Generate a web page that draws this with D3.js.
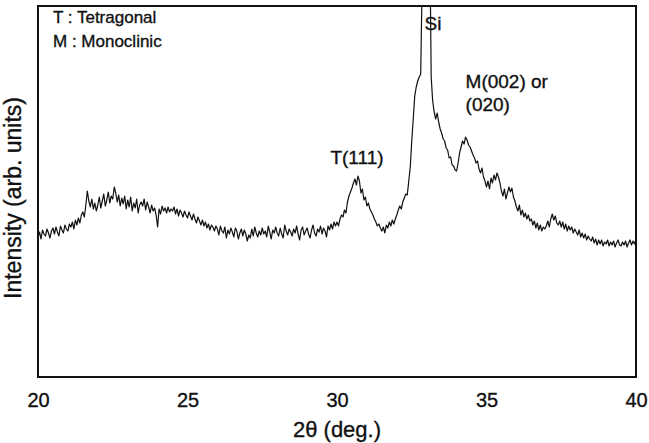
<!DOCTYPE html>
<html>
<head>
<meta charset="utf-8">
<script src="https://cdn.jsdelivr.net/npm/d3@7"></script>
<style>
  body { margin: 0; background: #fff; }
  svg { display: block; }
  text { font-family: "Liberation Sans", Arial, sans-serif; fill: #111; stroke: #111; stroke-width: 0.35px; }
</style>
</head>
<body>
<svg width="649" height="443"></svg>
<script>
// XRD scan, 2theta from 20 to 40 deg, step 0.05 deg
const scanStart = 20;
const scanStep = 0.05;

// intensity (arb. units)
const intensity = [
  140,145,138,147,143,141,148,144,139,146,
  149,143,150,145,141,151,147,144,152,148,
  146,153,150,155,148,157,152,159,154,162,
  165,160,172,186,176,170,178,168,174,166,
  172,180,169,176,183,171,177,185,174,181,
  178,190,184,175,182,171,179,173,181,168,
  177,170,180,166,174,169,178,164,172,175,
  171,178,167,175,170,164,172,166,169,162,
  150,168,163,171,166,169,164,170,165,168,
  166,170,163,168,161,167,164,160,166,162,
  159,165,161,157,163,158,154,160,156,152,
  157,151,155,149,153,147,152,150,146,151,
  148,142,151,146,144,150,139,147,143,149,
  145,140,149,146,138,144,148,141,147,143,
  136,142,139,148,141,150,144,140,146,142,
  149,143,146,140,151,145,138,147,144,150,
  144,141,149,143,139,152,146,142,148,145,
  141,148,144,151,143,137,147,150,142,146,
  149,143,139,147,152,144,141,148,145,151,
  143,149,146,140,151,147,153,148,155,151,
  155,151,158,162,160,167,164,175,181,185,
  189,194,198,192,201,196,184,188,177,180,
  171,174,168,165,162,158,155,151,153,149,
  146,150,144,152,149,155,151,157,153,158,
  162,167,171,168,175,179,183,182,196,210,
  236,258,281,290,296,300,303,400,480,510,
  540,520,450,300,276,265,258,264,255,248,
  244,238,236,229,227,219,220,212,211,207,
  206,214,224,230,236,233,240,237,232,230,
  226,222,219,214,216,208,204,209,200,196,
  190,196,188,199,194,202,197,204,200,194,
  186,181,188,178,184,190,185,189,180,176,
  170,166,172,162,167,160,164,158,162,156,
  158,152,156,149,154,147,152,146,150,148,
  151,156,150,158,163,157,161,154,152,156,
  150,155,148,153,146,151,147,150,144,148,
  145,142,147,140,144,139,143,137,141,138,
  136,140,134,138,132,137,133,137,131,135,
  133,137,131,135,132,136,130,134,137,132,
  131,135,132,136,130,134,137,132,136,133,
  138
];

const xTicks = [20, 25, 30, 35, 40];

// peak labels: text, 2theta of label start, intensity at text baseline
const peakLabels = ["Si", "T(111)", "M(002) or", "(020)"];
const peakLabelX = [32.93, 29.78, 34.3, 34.3];
const peakLabelY = [347, 213, 289, 266];

const legendLines = ["T : Tetragonal", "M : Monoclinic"];

const data = intensity.map((v, i) => ({ t: scanStart + i * scanStep, v: v }));

const svg = d3.select("svg");
const margin = {top: 6, right: 13, bottom: 66, left: 38};
const width = 649 - margin.left - margin.right;
const height = 443 - margin.top - margin.bottom;

const x = d3.scaleLinear().domain([20, 40]).range([0, width]);
const y = d3.scaleLinear().domain([0, 371]).range([height, 0]);

const g = svg.append("g")
  .attr("transform", `translate(${margin.left},${margin.top})`);

g.append("clipPath")
  .attr("id", "plot-clip")
  .append("rect")
  .attr("width", width)
  .attr("height", height);

const line = d3.line()
  .x(d => x(d.t))
  .y(d => y(d.v));

g.append("path")
  .datum(data)
  .attr("clip-path", "url(#plot-clip)")
  .attr("fill", "none")
  .attr("stroke", "#111")
  .attr("stroke-width", 1.2)
  .attr("stroke-linejoin", "round")
  .attr("d", line);

// frame
g.append("rect")
  .attr("width", width)
  .attr("height", height)
  .attr("fill", "none")
  .attr("stroke", "#111")
  .attr("stroke-width", 2);

// x axis, labels only
const xAxis = g.append("g")
  .attr("transform", `translate(0,${height})`)
  .call(d3.axisBottom(x).tickValues(xTicks).tickSize(0).tickPadding(16));
xAxis.select(".domain").remove();
xAxis.selectAll("text")
  .style("font-size", "20px")
  .style("font-family", "'Liberation Sans', Arial, sans-serif")
  .attr("fill", "#111");

g.append("text")
  .attr("x", width / 2)
  .attr("y", height + 60)
  .attr("text-anchor", "middle")
  .style("font-size", "22px")
  .text("2θ (deg.)");

g.append("text")
  .attr("transform", "rotate(-90)")
  .attr("x", -(198 - margin.top))
  .attr("y", -17)
  .attr("text-anchor", "middle")
  .style("font-size", "23px")
  .text("Intensity (arb. units)");

g.selectAll(".legend")
  .data(legendLines)
  .enter().append("text")
  .attr("class", "legend")
  .attr("x", 15)
  .attr("y", (d, i) => 17 + i * 24)
  .style("font-size", "17px")
  .text(d => d);

g.selectAll(".peak")
  .data(peakLabels)
  .enter().append("text")
  .attr("class", "peak")
  .attr("x", (d, i) => x(peakLabelX[i]))
  .attr("y", (d, i) => y(peakLabelY[i]))
  .style("font-size", "19px")
  .text(d => d);
</script>
</body>
</html>
